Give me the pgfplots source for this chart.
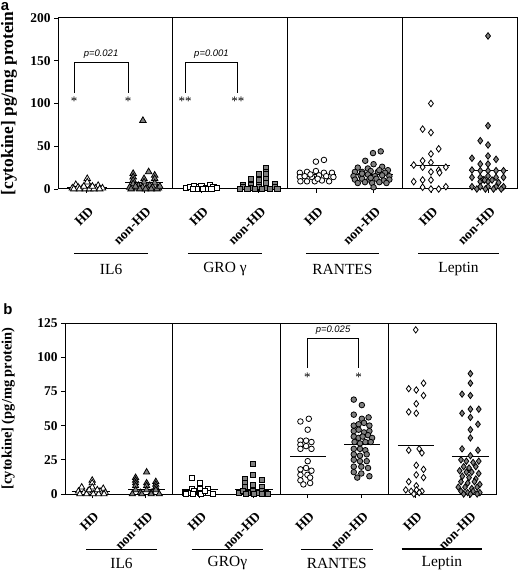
\documentclass[border=0pt]{standalone}
\usepackage{fontspec}
\setmainfont{Liberation Serif}
\setsansfont{Liberation Sans}
\usepackage{pgfplots}
\pgfplotsset{compat=1.18}
\definecolor{mgray}{RGB}{128,128,128}
\pgfplotsset{
 panel/.style={
  scale only axis, clip=false,
  xmin=0, xmax=16,
  axis line style={line width=1pt},
  xtick={1,3,5,7,9,11,13,15},
  xticklabels={HD,non-HD,HD,non-HD,HD,non-HD,HD,non-HD},
  xtick pos=bottom, ytick pos=left,
  tick align=outside, major tick length=4bp,
  tick style={black, line width=0.8pt},
  xticklabel style={xshift=7bp, yshift=-14bp, rotate=45, anchor=east, font=\fontsize{13.5}{13.5}\selectfont\bfseries},
  yticklabel style={font=\fontsize{13.5}{13.5}\selectfont\bfseries},
  /pgf/number format/assume math mode=true,
 },
 hd/.style={only marks, mark options={draw=black, fill=white, line width=0.8pt}},
 nhd/.style={only marks, mark options={draw=black, fill=mgray, line width=0.8pt}},
 med/.style={black, line width=1pt, no marks, forget plot},
}
\begin{document}
\begin{tikzpicture}[x=1bp,y=1bp]
\path[use as bounding box] (0bp,0bp) rectangle (518bp,572bp);
\node[font=\sffamily\bfseries\fontsize{15}{15}\selectfont] at (5bp,565bp) {a};
\node[font=\sffamily\bfseries\fontsize{15}{15}\selectfont] at (8bp,263bp) {b};
% ---------------- panel a
\begin{axis}[panel, at={(58bp,383bp)}, anchor=south west, width=459bp, height=171bp,
  ymin=0, ymax=200, ytick={0,50,100,150,200},
  ylabel={[cytokine] pg/mg protein},
  ylabel style={at={(axis description cs:-0.107,0.5)}, anchor=center, font=\fontsize{17.5}{17.5}\selectfont\bfseries}]
\draw[line width=1pt] (axis cs:4,0) -- (axis cs:4,200);
\draw[line width=1pt] (axis cs:8,0) -- (axis cs:8,200);
\draw[line width=1pt] (axis cs:12,0) -- (axis cs:12,200);
% IL6
\addplot[hd, mark=triangle*, mark size=3.8] coordinates {(0.62,5)(1.02,12)(1.02,8)(1.4,4)(0.5,1)(0.7,2)(0.85,1)(1.15,2)(1.3,1)(1.55,1)(0.55,0)(0.75,0)(0.95,0)(1.1,0)(1.25,0)(1.45,0)(0.9,3)(1.2,3)};
\addplot[med] coordinates {(0.31,1.5)(1.7,1.5)};
\addplot[nhd, mark=triangle*, mark size=3.8] coordinates {(2.96,80)(2.62,18)(2.62,14)(2.62,10)(2.62,6)(3.0,12)(3.0,8)(3.16,20)(3.37,16)(3.37,12)(3.37,7)(2.8,4)(3.2,4)(2.5,2)(2.75,1)(2.95,2)(3.1,1)(3.3,2)(3.5,1)(2.55,0)(2.85,0)(3.05,0)(3.25,0)(3.45,0)(2.7,3)(3.55,3)};
\addplot[med] coordinates {(2.34,7.4)(3.66,7.4)};
% GRO
\addplot[hd, mark=square*, mark size=2.6] coordinates {(4.47,1)(4.6,2)(4.75,3)(4.9,2)(5.0,4)(5.15,1)(5.29,5)(5.42,2)(5.55,1)(4.85,0.5)(5.2,0.5)(5.05,0)(4.7,0)(5.35,0)};
\addplot[med] coordinates {(4.36,1)(5.69,1)};
\addplot[nhd, mark=square*, mark size=2.6] coordinates {(7.26,24)(7.26,20)(7.26,17)(7.26,12)(7.26,7)(6.99,18)(6.99,10)(6.99,5)(6.71,12)(6.71,5)(6.45,5)(7.55,6)(6.45,2)(6.71,1)(6.99,2)(7.26,1)(7.55,2)(6.6,0)(6.85,0)(7.1,0)(7.4,0)(7.65,0)(6.35,0)};
\addplot[med] coordinates {(6.34,2.5)(7.73,2.5)};
% RANTES
\addplot[hd, mark=*, mark size=2.8] coordinates {(8.99,32)(9.27,34)(8.43,19)(8.68,20)(8.99,21)(9.27,19)(9.55,19)(8.43,14)(8.6,15)(8.85,14)(9.1,16)(9.35,15)(9.6,14)(8.45,9)(8.68,9)(8.95,9)(9.2,10)(9.45,9)(8.8,17)(9.05,12)};
\addplot[med] coordinates {(8.33,16.4)(9.69,16.4)};
\addplot[nhd, mark=*, mark size=2.8] coordinates {(10.98,42)(11.25,44)(10.71,33)(11.0,29)(10.45,25)(10.8,24)(11.3,26)(11.5,22)(10.35,20)(10.6,20)(10.9,21)(11.15,20)(11.4,19)(10.3,15)(10.55,16)(10.8,17)(11.05,15)(11.3,16)(11.55,15)(10.35,11)(10.6,12)(10.85,11)(11.1,12)(11.35,10)(11.55,11)(10.45,7)(10.7,8)(10.95,7)(11.2,8)(11.45,7)(11.0,2)(10.6,18)(11.2,22)(10.9,13)};
\addplot[med] coordinates {(10.35,17)(11.68,17)};
% Leptin
\addplot[hd, mark=diamond*, mark size=3.3] coordinates {(13.0,100)(12.71,70)(13.0,66)(13.27,47)(13.0,41)(12.71,33)(13.0,31)(12.4,28)(12.71,25.5)(13.0,20)(13.27,22)(13.52,25.5)(13.3,19)(12.4,8.6)(12.71,10.5)(13.0,10.5)(12.71,2)(13.0,0)(13.27,0)(13.52,2.7)};
\addplot[med] coordinates {(12.28,27.7)(13.67,27.7)};
\addplot[nhd, mark=diamond*, mark size=3.3] coordinates {(14.99,179)(14.99,74)(14.72,56.5)(14.99,51.5)(14.43,36)(14.99,38.6)(15.27,34.7)(14.72,29.2)(14.99,29.2)(14.43,22.2)(14.72,21.4)(14.99,21.4)(15.27,21.4)(15.53,21.4)(14.43,13.6)(14.72,13.6)(14.99,15.2)(15.27,13.6)(15.53,13.6)(14.72,8.6)(14.99,8.6)(14.43,2.7)(14.72,2.7)(14.99,2.7)(15.27,2.7)(15.53,2.7)(14.6,0)(14.9,0)(15.18,0)(15.45,0)(14.82,11)(14.87,10.5)(15.13,10.5)(15.36,7.5)};
\addplot[med] coordinates {(14.32,22)(15.69,22)};
% brackets
\draw[line width=0.8pt] (axis cs:0.56,112) -- (axis cs:0.56,148) -- (axis cs:2.44,148) -- (axis cs:2.44,112);
\node[font=\sffamily\itshape\fontsize{9.5}{9.5}\selectfont, anchor=south] at (axis cs:1.5,148.5) {p=0.021};
\node[font=\fontsize{13}{13}\selectfont] at (axis cs:0.56,103) {*};
\node[font=\fontsize{13}{13}\selectfont] at (axis cs:2.44,103) {*};
\draw[line width=0.8pt] (axis cs:4.43,112) -- (axis cs:4.43,148) -- (axis cs:6.27,148) -- (axis cs:6.27,112);
\node[font=\sffamily\itshape\fontsize{9.5}{9.5}\selectfont, anchor=south] at (axis cs:5.35,148.5) {p=0.001};
\node[font=\fontsize{13}{13}\selectfont] at (axis cs:4.43,103) {**};
\node[font=\fontsize{13}{13}\selectfont] at (axis cs:6.27,103) {**};
% groups
\draw[line width=1pt] ([yshift=-65bp]axis cs:0.56,0) -- ([yshift=-65bp]axis cs:3.14,0);
\draw[line width=1pt] ([yshift=-65bp]axis cs:4.53,0) -- ([yshift=-65bp]axis cs:7.11,0);
\draw[line width=1pt] ([yshift=-65bp]axis cs:8.64,0) -- ([yshift=-65bp]axis cs:11.19,0);
\draw[line width=1pt] ([yshift=-65bp]axis cs:12.55,0) -- ([yshift=-65bp]axis cs:15.37,0);
\node[font=\fontsize{15.5}{15.5}\selectfont] at ([yshift=-80bp]axis cs:1.85,0) {IL6};
\node[font=\fontsize{15.5}{15.5}\selectfont] at ([yshift=-80bp]axis cs:5.82,0) {GRO~γ};
\node[font=\fontsize{15.5}{15.5}\selectfont] at ([yshift=-80bp]axis cs:9.915,0) {RANTES};
\node[font=\fontsize{15.5}{15.5}\selectfont] at ([yshift=-80bp]axis cs:13.96,0) {Leptin};
\end{axis}
% ---------------- panel b
\begin{axis}[panel, at={(65bp,78bp)}, anchor=south west, width=431bp, height=171bp,
  ymin=0, ymax=125, ytick={0,25,50,75,100,125},
  ylabel={[cytokine] (pg/mg protein)},
  ylabel style={at={(axis description cs:-0.132,0.5)}, anchor=center, font=\fontsize{14.5}{14.5}\selectfont\bfseries}]
\draw[line width=1pt] (axis cs:4,0) -- (axis cs:4,125);
\draw[line width=1pt] (axis cs:8,0) -- (axis cs:8,125);
\draw[line width=1pt] (axis cs:12,0) -- (axis cs:12,125);
% IL6
\addplot[hd, mark=triangle*, mark size=3.6] coordinates {(0.62,5)(1.01,10)(1.01,8)(1.01,5)(1.42,4)(0.5,2)(0.7,1)(0.85,2)(1.15,1)(1.3,2)(1.5,1)(0.55,0)(0.8,0)(1.05,0)(1.25,0)(1.45,0)(0.9,3)(1.2,3)};
\addplot[med] coordinates {(0.25,1.7)(1.67,1.7)};
\addplot[nhd, mark=triangle*, mark size=3.6] coordinates {(3.03,16)(2.62,12)(2.62,10)(2.62,8)(2.62,6)(3.03,8)(3.03,6)(3.37,9)(3.37,7)(3.37,5)(2.62,3)(3.03,3)(3.37,3)(2.8,1)(3.2,1)(2.5,0)(3.5,0)(2.85,0)(3.2,0)};
\addplot[med] coordinates {(2.35,3.4)(3.71,3.4)};
% GRO
\addplot[hd, mark=square*, mark size=2.5] coordinates {(4.7,12)(5.01,8)(4.7,4)(5.01,4)(5.32,4)(4.46,1)(4.6,1)(4.8,2)(5.01,1)(5.15,1)(5.32,1)(5.5,0)(4.5,0)(4.75,0)(5.05,0)(5.2,2)};
\addplot[med] coordinates {(4.33,3)(5.69,3)};
\addplot[nhd, mark=square*, mark size=2.5] coordinates {(6.99,22)(6.99,14)(6.68,11)(6.68,8)(6.99,7)(7.3,10)(7.3,5)(6.68,5)(6.44,1)(6.6,2)(6.8,1)(6.99,2)(7.15,1)(7.3,2)(7.45,1)(7.55,0)(6.7,0)(7.0,0)(7.3,0)};
\addplot[med] coordinates {(6.31,3.6)(7.74,3.6)};
% RANTES
\addplot[hd, mark=*, mark size=2.8] coordinates {(8.74,53)(9.05,55)(9.01,47)(8.74,39)(8.95,39)(9.15,38)(8.74,36)(8.74,33)(8.95,35)(9.15,33)(9.01,24)(8.74,18)(8.95,19)(9.15,17)(8.74,14)(9.0,14)(8.74,10)(8.85,7)(9.1,8)(9.1,12)};
\addplot[med] coordinates {(8.36,27.3)(9.7,27.3)};
\addplot[nhd, mark=*, mark size=2.8] coordinates {(10.72,69)(11.02,65)(10.72,58)(11.02,55)(11.27,56)(10.72,50)(10.9,51)(11.1,52)(11.3,50)(10.72,46)(10.9,47)(11.1,45)(11.3,46)(10.72,42)(10.9,41)(11.05,42)(11.25,43)(11.4,41)(10.75,38)(10.95,37)(11.15,38)(11.35,38)(10.72,33)(10.95,33)(11.15,32)(10.72,29)(10.95,28)(11.2,29)(10.72,25)(10.95,24)(11.2,24)(10.72,20)(11.0,20)(11.25,19)(10.72,16)(11.0,15)(11.3,13)(10.85,12)};
\addplot[med] coordinates {(10.37,36.5)(11.7,36.5)};
% Leptin
\addplot[hd, mark=diamond*, mark size=3.2] coordinates {(13.02,120)(13.31,81)(12.76,77)(13.04,76)(13.31,72)(13.04,66)(12.76,60)(13.04,59)(12.76,32)(13.15,33)(13.25,30)(13.04,21)(13.31,18)(13.04,14)(13.31,12)(12.76,9)(13.04,6)(12.65,3)(12.85,2)(13.05,3)(13.25,2)(12.95,0)(13.15,1)};
\addplot[med] coordinates {(12.36,35.8)(13.71,35.8)};
\addplot[nhd, mark=diamond*, mark size=3.2] coordinates {(15.05,88)(15.05,81)(14.74,73)(15.05,72)(14.74,59)(15.05,62)(15.36,62)(15.05,56)(15.33,51)(15.05,47)(15.05,41)(14.74,33)(15.33,32)(15.05,28)(14.7,25)(14.9,24)(15.15,23)(15.36,24)(14.8,20)(15.0,19)(15.25,20)(14.65,17)(14.9,16)(15.1,16)(15.36,15)(14.75,13)(15.0,12)(15.25,11)(14.7,9)(14.95,8)(15.2,9)(15.4,7)(14.6,5)(14.85,5)(15.1,4)(15.3,5)(14.7,2)(14.95,1)(15.15,2)(15.4,1)(14.8,0)(15.05,0)(15.3,0)};
\addplot[med] coordinates {(14.36,27.3)(15.73,27.3)};
% bracket
\draw[line width=0.8pt] (axis cs:9,92) -- (axis cs:9,114) -- (axis cs:10.9,114) -- (axis cs:10.9,92);
\node[font=\sffamily\itshape\fontsize{9.5}{9.5}\selectfont, anchor=south] at (axis cs:9.95,114.3) {p=0.025};
\node[font=\fontsize{13}{13}\selectfont] at (axis cs:9,85) {*};
\node[font=\fontsize{13}{13}\selectfont] at (axis cs:10.9,85) {*};
% groups
\draw[line width=1pt] ([yshift=-55bp]axis cs:0.78,0) -- ([yshift=-55bp]axis cs:3.42,0);
\draw[line width=1pt] ([yshift=-55bp]axis cs:4.7,0) -- ([yshift=-55bp]axis cs:7.36,0);
\draw[line width=1pt] ([yshift=-55bp]axis cs:8.76,0) -- ([yshift=-55bp]axis cs:11.42,0);
\draw[line width=1.5pt] ([yshift=-55bp]axis cs:12.5,0) -- ([yshift=-55bp]axis cs:15.48,0);
\node[font=\fontsize{15.5}{15.5}\selectfont] at ([yshift=-69bp]axis cs:2.1,0) {IL6};
\node[font=\fontsize{15.5}{15.5}\selectfont] at ([yshift=-69bp]axis cs:6.03,0) {GROγ};
\node[font=\fontsize{15.5}{15.5}\selectfont] at ([yshift=-69bp]axis cs:10.09,0) {RANTES};
\node[font=\fontsize{15.5}{15.5}\selectfont] at ([yshift=-69bp]axis cs:13.99,0) {Leptin};
\end{axis}
\end{tikzpicture}
\end{document}
